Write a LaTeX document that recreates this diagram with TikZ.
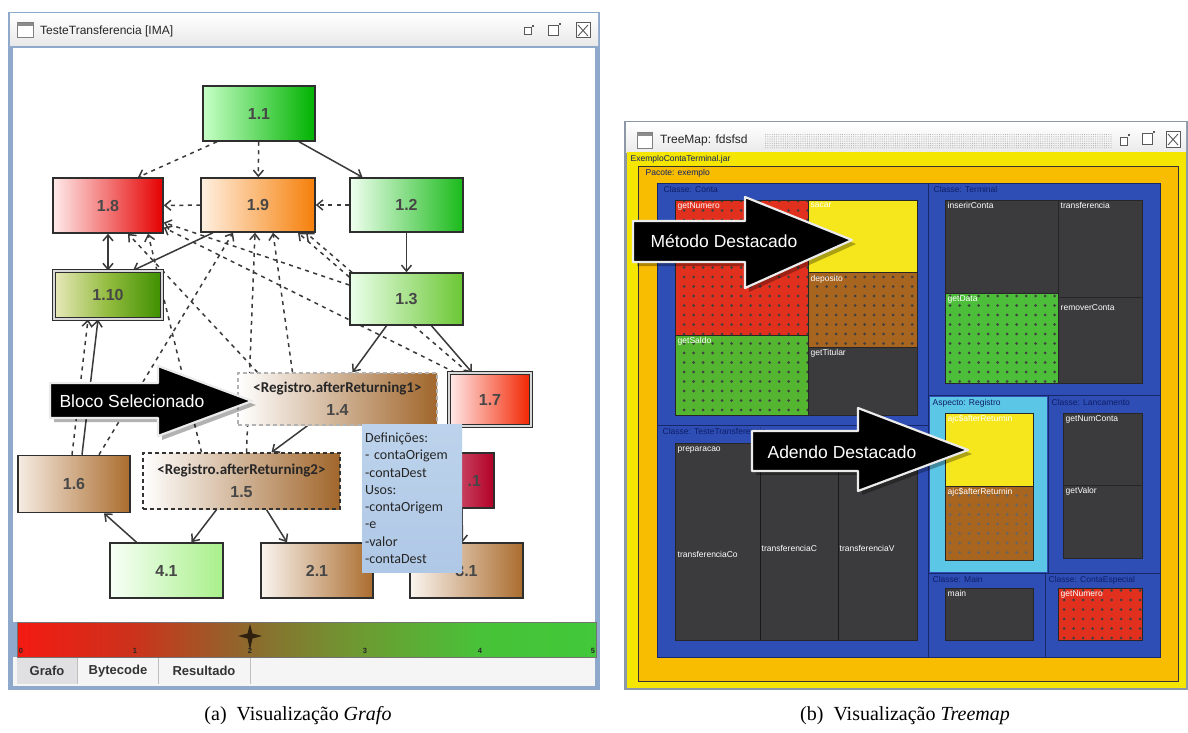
\documentclass[tikz,border=0pt]{standalone}
\usepackage{fontspec}
\setmainfont{Liberation Serif}
\newfontfamily\uifont{Liberation Sans}
\newfontfamily\tipfont{Carlito}
\usetikzlibrary{arrows.meta,patterns.meta}

% ---------- palette ----------
\definecolor{winframe}{HTML}{8FA9CC}
\definecolor{tmframe}{HTML}{8C98A8}
\definecolor{edgegray}{HTML}{3A3A3A}
\definecolor{tipblue}{HTML}{BDD3EC}
\definecolor{tipblue2}{HTML}{AFC8E6}
\definecolor{tmblue}{HTML}{2E4EB6}
\definecolor{tmline}{HTML}{172868}
\definecolor{tmyellow}{HTML}{F4E600}
\definecolor{tmorange}{HTML}{F8BC00}
\definecolor{tmcyan}{HTML}{5CC6E6}
\definecolor{tmgray}{HTML}{3B3A3C}
\definecolor{tmred}{HTML}{E2301E}
\definecolor{tmgreen}{HTML}{4CBE3A}
\definecolor{tmbrown}{HTML}{A8651F}
\definecolor{tmhigh}{HTML}{F6E71C}
\definecolor{labnavy}{HTML}{0E1E66}
\definecolor{qa}{HTML}{F41A12}
\definecolor{qb}{HTML}{CC321C}
\definecolor{qc}{HTML}{8C6A2E}
\definecolor{qd}{HTML}{6C9C32}
\definecolor{qe}{HTML}{48C238}
\definecolor{qf}{HTML}{42C83A}
% the path spans the 25bp..75bp part of this shading
\pgfdeclarehorizontalshading{quality}{50bp}{color(0bp)=(qa); color(25bp)=(qa); color(35bp)=(qb); color(45bp)=(qc); color(55bp)=(qd); color(65bp)=(qe); color(75bp)=(qf); color(100bp)=(qf)}

\pgfdeclarelayer{bg}
\pgfdeclarelayer{edges}
\pgfdeclarelayer{top}
\pgfsetlayers{bg,edges,main,top}

\tikzset{
  >={Straight Barb[length=6pt,width=10pt]},
  gnode/.style={draw=black!82, line width=1.5pt, inner sep=0pt,
    font=\uifont\bfseries\fontsize{16}{16}\selectfont, text=black!72},
  dnode/.style={gnode, line width=1.1pt, double=white!85!black, double distance=2.2pt},
  anode/.style={gnode, align=center, line width=1.3pt},
  call/.style={draw=edgegray, line width=1.5pt, ->},
  rel/.style={call, dash pattern=on 4pt off 4.5pt},
  callout/.style={fill=black, draw=white!92!black, line width=2.2pt, line join=round},
  calloutshadow/.style={fill=black, opacity=0.3},
  callouttext/.style={text=white, font=\uifont\fontsize{17.5}{17.5}\selectfont, inner sep=0pt},
  wtitle/.style={font=\uifont\fontsize{12}{12}\selectfont, text=black!85, anchor=west, inner sep=0pt},
  tab/.style={font=\uifont\bfseries\fontsize{13}{13}\selectfont, text=black!80, inner sep=0pt},
  ticklab/.style={font=\uifont\bfseries\fontsize{7.5}{8}\selectfont, text=black!85, inner sep=0pt},
  cell/.style={draw=black!85, line width=0.8pt},
  grayc/.style={cell, fill=tmgray},
  dotted cell/.style={pattern={Dots[distance=9.5pt,radius=1.5pt]}, pattern color=#1},
  mlabel/.style={anchor=north west, inner sep=0.5pt, text=white, font=\uifont\fontsize{8.5}{9}\selectfont},
  clabel/.style={anchor=north west, inner sep=0.5pt, text=labnavy, font=\uifont\fontsize{8.5}{9}\selectfont},
  caption/.style={font=\fontsize{20}{22}\selectfont, inner sep=0pt},
  btn/.style={draw=black!65, line width=1pt, fill=white},
}

\begin{document}
\begin{tikzpicture}[x=1pt,y=-1pt]
\useasboundingbox (0,0) rectangle (1188,733);

% ================= left window chrome =================
\begin{pgfonlayer}{bg}
\fill[white] (0,0) rectangle (1188,733);
\fill[winframe] (8,12) rectangle (600,690);
\shade[top color=white, bottom color=black!9] (10,14) rectangle (598,46);
\fill[white] (13,48) rectangle (595,622);
\fill[black!4] (13,657) rectangle (595,686);
% window icon and buttons
\draw[btn, draw=black!50] (17,23) rectangle (33,38);
\fill[black!45] (17,23) rectangle (33,26);
\draw[btn] (524,28) rectangle (531,35);
\fill[black!65] (532,25) rectangle (534,27);
\draw[btn] (548,26) rectangle (558,36);
\fill[black!65] (559,23) rectangle (561,25);
\draw[btn] (576,23) rectangle (590,38);
\draw[black!65, line width=0.9pt] (578,25) -- (588,36) (588,25) -- (578,36);
% quality bar
\shade[shading=quality] (17,622) rectangle (596,657);
\draw[black!55, line width=0.8pt] (17,622) rectangle (596,657);
\fill[black!75!brown] (250,624) -- (252.5,633.5) -- (262,636) -- (252.5,638.5) -- (250,650)
  -- (247.5,638.5) -- (238,636) -- (247.5,633.5) -- cycle;
% tabs
\fill[blue!8!black!12] (17,658) rectangle (77,684);
\draw[black!25, line width=0.6pt] (77,658) -- (77,684) (158,658) -- (158,684) (250,658) -- (250,684);
\end{pgfonlayer}
\node[wtitle] (t1) at (40,31) {TesteTransferencia [IMA]};
\node[ticklab] (k0) at (21,651) {0};
\node[ticklab] (k1) at (135,651) {1};
\node[ticklab] (k2) at (250,651) {2};
\node[ticklab] (k3) at (365,651) {3};
\node[ticklab] (k4) at (480,651) {4};
\node[ticklab] (k5) at (593,651) {5};
\node[tab] (tg) at (47,671) {Grafo};
\node[tab] (tb) at (118,671) {Bytecode};
\node[tab] (tr) at (204,671) {Resultado};

% ================= graph nodes =================
\node[gnode, minimum width=112pt, minimum height=55pt, left color=green!22!white, right color=green!60!black!75!green] (n11) at (259,113.5) {1.1};
\node[gnode, minimum width=110pt, minimum height=55pt, left color=red!8!white, right color=red!90!black!100] (n18) at (108,205.5) {1.8};
\node[gnode, minimum width=114pt, minimum height=54pt, left color=orange!12!white, right color=orange!85!brown] (n19) at (258,205) {1.9};
\node[gnode, minimum width=113pt, minimum height=54pt, left color=green!6!white, right color=green!70!black!90] (n12) at (406.5,205) {1.2};
\node[dnode, minimum width=108pt, minimum height=48pt, left color=olive!18!white, right color=olive!60!green!80!black] (n110) at (108,295) {1.10};
\node[gnode, minimum width=113pt, minimum height=52pt, left color=green!8!white, right color=green!45!olive!80] (n13) at (406.5,299) {1.3};
\node[anode, draw=black!30, dash pattern=on 4pt off 3pt, minimum width=199pt, minimum height=52pt, left color=white, right color=brown!85!orange!80!black] (n14) at (337.5,399)
  {{\tipfont\bfseries\fontsize{15}{15}\selectfont\color{black!85}<Registro.afterReturning1>}\\[7pt]1.4};
\node[dnode, minimum width=82pt, minimum height=53pt, left color=red!8!white, right color=red!70!orange!95!black] (n17) at (490,399.5) {1.7};
\node[gnode, minimum width=112pt, minimum height=57pt, left color=brown!15!white, right color=brown!85!orange!85!black] (n16) at (74,484) {1.6};
\node[anode, draw=black!80, dash pattern=on 4pt off 3pt, minimum width=197pt, minimum height=56pt, left color=white, right color=brown!85!orange!80!black] (n15) at (241.5,481)
  {{\tipfont\bfseries\fontsize{15}{15}\selectfont\color{black!85}<Registro.afterReturning2>}\\[7pt]1.5};
\node[gnode, minimum width=100pt, minimum height=55pt, text width=74pt, align=right, left color=purple!25!white, right color=purple!70!red!85!black] (nx1) at (444,480.5) {.1};
\node[gnode, minimum width=113pt, minimum height=55pt, left color=green!3!white, right color=olive!30!green!40!white] (n41) at (166.5,570.5) {4.1};
\node[gnode, minimum width=112pt, minimum height=55pt, left color=brown!8!white, right color=brown!85!orange!85!black] (n21) at (317,570.5) {2.1};
\node[gnode, minimum width=113pt, minimum height=55pt, left color=brown!8!white, right color=brown!85!orange!85!black] (n31) at (466.5,570.5) {3.1};

% ================= graph edges =================
\begin{pgfonlayer}{edges}
% calls
\draw[call] ([xshift=40pt]n11.south) -- ([xshift=-44pt]n12.north);
\draw[call] (n12) -- (n13);
\draw[call] ([xshift=-45pt]n19.south) -- ([xshift=25pt]n110.north);
\draw[call, <->] (n18) -- (n110);
\draw[call] ([xshift=-20pt]n13.south) -- ([xshift=15pt]n14.north);
\draw[call] ([xshift=25pt]n13.south) -- ([xshift=-18pt]n17.north);
\draw[call] ([xshift=-30pt]n14.south) -- ([xshift=30pt]n15.north);
\draw[call] ([xshift=-25pt]n15.south) -- ([xshift=25pt]n41.north);
\draw[call] ([xshift=25pt]n15.south) -- ([xshift=-30pt]n21.north);
\draw[call] ([xshift=-30pt]n41.north) -- ([xshift=30pt]n16.south);
\draw[call] ([xshift=8pt]n16.north) -- ([xshift=-10pt]n110.south);
\draw[call] ([xshift=18pt]nx1.south) -- ([xshift=-4pt]n31.north);
% data relations
\draw[rel] ([xshift=-42pt]n11.south) -- ([xshift=30pt]n18.north);
\draw[rel] (n11) -- (n19);
\draw[rel] (n19) -- (n18);
\draw[rel] (n12) -- (n19);
\draw[rel] ([yshift=14pt]n13.west) -- ([yshift=-17pt]n18.east);
\draw[rel] ([xshift=-80pt]n14.north) -- ([xshift=20pt]n18.south);
\draw[rel] ([xshift=-40pt]n15.north) -- ([xshift=40pt]n18.south);
\draw[rel] ([xshift=25pt]n16.north) -- ([xshift=-25pt]n19.south);
\draw[rel] ([xshift=5pt]n15.north) -- ([xshift=-3pt]n19.south);
\draw[rel] ([xshift=-45pt]n14.north) -- ([xshift=15pt]n19.south);
\draw[rel] ([yshift=22pt]n13.west) -- ([xshift=40pt]n19.south);
\draw[rel] ([xshift=-35pt]n17.north) -- ([yshift=-22pt]n18.east);
\draw[rel] ([xshift=-22pt]n17.north) -- ([xshift=48pt]n19.south);
\draw[rel] ([xshift=-2pt]n16.north) -- ([xshift=-20pt]n110.south);
\end{pgfonlayer}

% ================= tooltip and callout =================
\begin{pgfonlayer}{top}
\node[anchor=north west, minimum width=100pt, minimum height=148pt, text width=94pt, inner sep=3pt,
      align=left, top color=tipblue, bottom color=tipblue2, text=black!85,
      font=\tipfont\fontsize{14}{17.3}\selectfont] (tip) at (362,424)
  {Definições:\\- contaOrigem\\-contaDest\\Usos:\\-contaOrigem\\-e\\-valor\\-contaDest};
\fill[calloutshadow] (54,387) -- (162,387) -- (162,370) -- (256,405) -- (162,440) -- (162,422) -- (54,422) -- cycle;
\path[callout] (50,383) -- (158,383) -- (158,366) -- (252,401) -- (158,436) -- (158,418) -- (50,418) -- cycle;
\node[callouttext] (cb) at (132,401) {Bloco Selecionado};
\end{pgfonlayer}

% ================= right window (treemap) =================
\begin{pgfonlayer}{bg}
\fill[tmframe] (624,121) rectangle (1188,690);
\shade[top color=white, bottom color=black!8] (626,123) rectangle (1186,152);
\fill[pattern={Dots[distance=2.2pt,radius=0.55pt]}, pattern color=black!30] (765,134) rectangle (1112,148);
\draw[btn, draw=black!50] (637,133) rectangle (652,148);
\fill[black!45] (637,133) rectangle (652,136);
\draw[btn] (1120,138) rectangle (1127,145);
\fill[black!65] (1128,134) rectangle (1130,136);
\draw[btn] (1142,134) rectangle (1152,144);
\fill[black!65] (1153,131) rectangle (1155,133);
\draw[btn] (1166,132) rectangle (1180,147);
\draw[black!65, line width=0.9pt] (1168,134) -- (1178,145) (1178,134) -- (1168,145);
\end{pgfonlayer}
\node[wtitle] (t2) at (660,140) {TreeMap: fdsfsd};

% jar, package, class area
\fill[tmyellow] (627,152) rectangle (1186,688);
\draw[black!80, line width=0.8pt, fill=tmorange] (638,166) rectangle (1178,681);
\fill[tmblue] (657,183) rectangle (1160,657);
\draw[tmline, line width=1pt] (657,183) rectangle (1160,657);
\draw[tmline, line width=1pt] (928,183) -- (928,657) (657,425) -- (928,425)
  (928,395) -- (1160,395) (1048,395) -- (1048,573) (928,573) -- (1160,573) (1045,573) -- (1045,657);
\fill[tmcyan] (930,397) rectangle (1047,572);
\node[clabel] (ljar) at (630,155) {ExemploContaTerminal.jar};
\node[clabel] (lpkg) at (645,169) {Pacote: exemplo};
\node[clabel] (lcta) at (663,186) {Classe: Conta};
\node[clabel] (lter) at (933,186) {Classe: Terminal};
\node[clabel] (ltes) at (662,428) {Classe: TesteTransferencia};
\node[clabel] (lasp) at (932,399) {Aspecto: Registro};
\node[clabel] (llan) at (1051,399) {Classe: Lancamento};
\node[clabel] (lmai) at (932,576) {Classe: Main};
\node[clabel] (lesp) at (1048,576) {Classe: ContaEspecial};

% class Conta
\fill[tmred] (675,200) rectangle (808,335);
\fill[dotted cell=black!75] (675,200) rectangle (808,335);
\draw[cell] (675,200) rectangle (808,335);
\draw[cell, fill=tmhigh] (808,200) rectangle (917,272);
\fill[tmbrown] (808,272) rectangle (917,347);
\fill[dotted cell=black!75] (808,272) rectangle (917,347);
\draw[cell] (808,272) rectangle (917,347);
\fill[tmgreen!85!olive] (675,335) rectangle (808,415);
\fill[dotted cell=black!75] (675,335) rectangle (808,415);
\draw[cell] (675,335) rectangle (808,415);
\draw[grayc] (808,347) rectangle (917,415);
\node[mlabel] (m1) at (677,202) {getNumero};
\node[mlabel] (m2) at (810,202) {sacar};
\node[mlabel] (m3) at (810,275) {deposito};
\node[mlabel] (m4) at (677,337) {getSaldo};
\node[mlabel] (m5) at (810,349) {getTitular};

% class Terminal
\draw[grayc] (945,200) rectangle (1058,293);
\draw[grayc] (1058,200) rectangle (1142,297);
\fill[tmgreen] (945,293) rectangle (1058,383);
\fill[dotted cell=black!75] (945,293) rectangle (1058,383);
\draw[cell] (945,293) rectangle (1058,383);
\draw[grayc] (1058,297) rectangle (1142,383);
\node[mlabel] (m6) at (947,202) {inserirConta};
\node[mlabel] (m7) at (1060,202) {transferencia};
\node[mlabel] (m8) at (947,295) {getData};
\node[mlabel] (m9) at (1060,304) {removerConta};

% class TesteTransferencia
\draw[grayc] (675,443) rectangle (917,640);
\draw[black!90, line width=0.8pt] (760,443) -- (760,640) (838,443) -- (838,640);
\node[mlabel] (m10) at (677,446) {preparacao};
\node[mlabel] (m11) at (677,551) {transferenciaCo};
\node[mlabel] (m12) at (761,545) {transferenciaC};
\node[mlabel] (m13) at (839,545) {transferenciaV};

% aspect Registro
\draw[cell, fill=tmhigh] (945,413) rectangle (1033,486);
\fill[tmbrown] (945,486) rectangle (1033,560);
\fill[dotted cell=black!60] (945,486) rectangle (1033,560);
\draw[cell] (945,486) rectangle (1033,560);
\node[mlabel] (m14) at (947,415) {ajc\$afterReturnin};
\node[mlabel] (m15) at (947,488) {ajc\$afterReturnin};

% class Lancamento
\draw[grayc] (1063,413) rectangle (1142,485);
\draw[grayc] (1063,485) rectangle (1142,558);
\node[mlabel] (m16) at (1065,415) {getNumConta};
\node[mlabel] (m17) at (1065,487) {getValor};

% class Main and ContaEspecial
\draw[grayc] (945,588) rectangle (1033,640);
\node[mlabel] (m18) at (947,590) {main};
\fill[tmred] (1058,588) rectangle (1142,640);
\fill[dotted cell=black!75] (1058,588) rectangle (1142,640);
\draw[cell] (1058,588) rectangle (1142,640);
\node[mlabel] (m19) at (1060,590) {getNumero};

% callouts on the treemap
\fill[calloutshadow] (637,225) -- (749,225) -- (749,201) -- (856,244) -- (749,292) -- (749,266) -- (637,266) -- cycle;
\path[callout] (633,221) -- (745,221) -- (745,197) -- (852,240) -- (745,288) -- (745,262) -- (633,262) -- cycle;
\node[callouttext] (cm) at (724,241) {Método Destacado};
\fill[calloutshadow] (756,435) -- (862,435) -- (862,412) -- (972,454) -- (862,495) -- (862,475) -- (756,475) -- cycle;
\path[callout] (752,431) -- (858,431) -- (858,408) -- (968,450) -- (858,491) -- (858,471) -- (752,471) -- cycle;
\node[callouttext] (ca) at (842,452) {Adendo Destacado};

% ================= captions =================
\node[caption] (capa) at (298,716) {(a)\enspace Visualização \textit{Grafo}};
\node[caption] (capb) at (905,716) {(b)\enspace Visualização \textit{Treemap}};
\end{tikzpicture}
\end{document}
